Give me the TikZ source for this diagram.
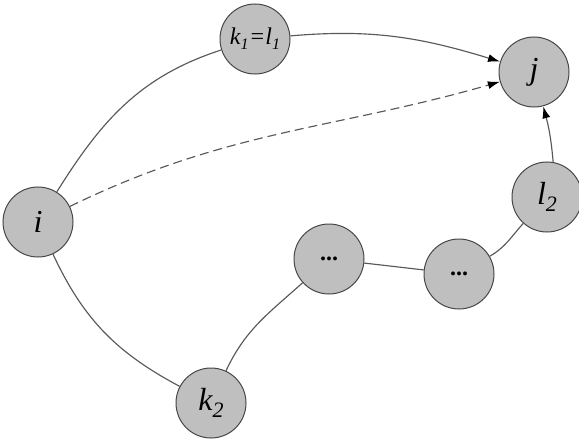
\documentclass[tikz,border=0pt]{standalone}
\usepackage{fontspec}
\setmainfont{Liberation Serif}
\usetikzlibrary{arrows.meta}
\newcommand{\subs}[2]{\raisebox{-0.45ex}{\fontsize{#2}{#2}\selectfont #1}}
\begin{document}
\begin{tikzpicture}[x=1pt,y=-1pt,
  vtx/.style={circle,draw=black!72,line width=1pt,fill=black!25,minimum size=70pt,inner sep=0pt,font=\fontsize{32}{32}\selectfont\itshape},
  edge/.style={draw=black!65,line width=1.15pt},
  arr/.style={edge,-{Latex[length=12pt,width=8pt,black]}}]
\useasboundingbox (0,0) rectangle (579,444);
\node[vtx] (i) at (38,222) {i};
\node[vtx,font=\fontsize{24}{24}\selectfont\itshape] (k1) at (255,39) {k\subs{1}{16}\hspace{0.5pt}=l\subs{1}{16}};
\node[vtx] (j) at (534,72) {j};
\node[vtx] (l2) at (547,197) {l\subs{2}{22}};
\node[vtx,font=\fontsize{24}{24}\selectfont\bfseries] (d1) at (329,259) {\raisebox{-0.25ex}{...}};
\node[vtx,font=\fontsize{24}{24}\selectfont\bfseries] (d2) at (459,274) {\raisebox{-0.25ex}{...}};
\node[vtx] (k2) at (211,403) {k\subs{2}{22}};
\draw[edge] (i) to[out=58,in=198] (k1);
\draw[arr] (k1) to[out=5,in=163] (j);
\draw[arr,dashed,dash pattern=on 9pt off 5pt] (i) to[out=26,in=196] (j);
\draw[edge] (i) to[out=-65,in=152] (k2);
\draw[edge] (k2) to[out=65,in=222] (d1);
\draw[edge] (d1) -- (d2);
\draw[edge] (d2) to[out=30,in=228] (l2);
\draw[arr] (l2.80) to[out=95,in=-75] (j);
\end{tikzpicture}
\end{document}
